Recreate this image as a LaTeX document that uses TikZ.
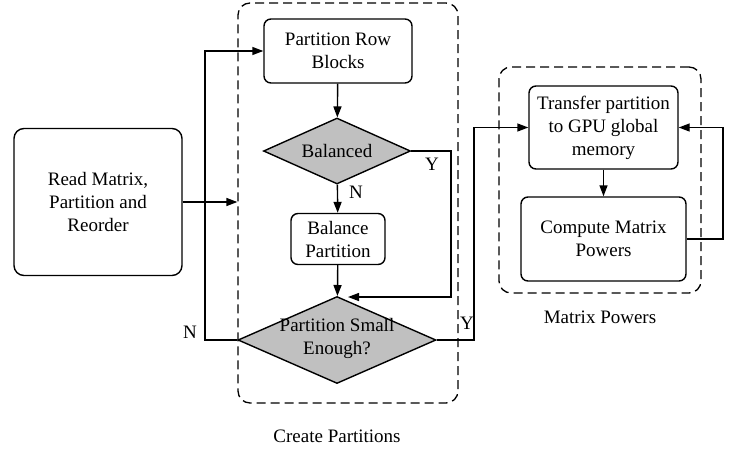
\documentclass[tikz,border=0pt]{standalone}
\usepackage{fontspec}
\setmainfont{Liberation Serif}
\usetikzlibrary{shapes.geometric,arrows.meta}
\definecolor{diagray}{HTML}{C0C0C0}
\begin{document}
\begin{tikzpicture}[x=1pt,y=-1pt,
  font=\fontsize{19}{23}\selectfont,
  line width=1.4pt,
  box/.style={draw, rounded corners=7pt, align=center, inner sep=0pt},
  dec/.style={draw, diamond, fill=diagray, inner sep=0pt},
  grp/.style={draw, dash pattern=on 9pt off 5pt, rounded corners=12pt, line width=1.3pt, inner sep=0pt},
  arr/.style={-{Triangle[length=11pt,width=8pt]}},
  lbl/.style={inner sep=0pt}]
\useasboundingbox (0,0) rectangle (743,450);

% groups
\node[grp, minimum width=220pt, minimum height=400pt] (cp) at (348,203) {};
\node[grp, minimum width=202pt, minimum height=226pt] (mp) at (600,180) {};
\node[lbl] (cpl) at (337,436) {Create Partitions};
\node[lbl] (mpl) at (600,317) {Matrix Powers};

% nodes
\node[box, rounded corners=10pt, minimum width=168pt, minimum height=147pt] (read) at (98,202) {Read Matrix,\\Partition and\\Reorder};
\node[box, minimum width=148pt, minimum height=64pt] (prb) at (338,51) {Partition Row\\Blocks};
\node[dec, minimum width=147pt, minimum height=66pt] (bal) at (337,151) {};
\node[lbl] (baltxt) at (bal) {Balanced};
\node[box, minimum width=94pt, minimum height=51pt] (bp) at (338,239) {Balance\\Partition};
\node[dec, minimum width=198pt, minimum height=87pt] (ps) at (337,340) {};
\node[lbl, align=center] (pstxt) at (337,338) {Partition Small\\Enough?};
\node[box, minimum width=149pt, minimum height=83pt] (tr) at (603.5,127.5) {Transfer partition\\to GPU global\\memory};
\node[box, minimum width=165pt, minimum height=84pt] (cm) at (603.5,239) {Compute Matrix\\Powers};

% labels
\node[lbl] (y1) at (432,164) {Y};
\node[lbl] (n1) at (356,192) {N};
\node[lbl] (n2) at (190,332) {N};
\node[lbl] (y2) at (467,323) {Y};

% helper coordinates
\coordinate (yb) at (451,297);
\coordinate (pstop) at (348,297);
\coordinate (nl) at (205,340);
\coordinate (yr) at (474,340);
\coordinate (lp) at (723,239);

% connectors
\draw[arr] (prb) -- (bal);
\draw[arr] (bal) -- (bp);
\draw[arr] (bp) -- (ps);
\draw[arr] (bal.east) -| (yb) -- (pstop);
\draw[arr] (ps.west) -- (nl) |- (prb.west);
\draw[arr] (read.east) -- (read.east -| cp.west);
\draw[arr] (ps.east) -- (yr) |- (tr.west);
\draw[arr] (tr) -- (cm);
\draw[arr] (cm.east) -- (lp) |- (tr.east);
\end{tikzpicture}
\end{document}
